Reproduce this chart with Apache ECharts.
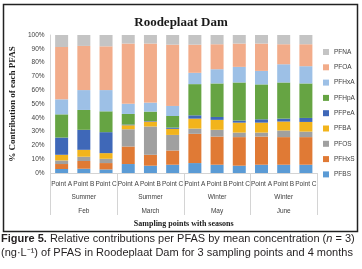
<!DOCTYPE html>
<html>
<head>
<meta charset="utf-8">
<script src="https://cdn.jsdelivr.net/npm/echarts@6/dist/echarts.min.js"></script>
<style>
  html,body{margin:0;padding:0;background:#fff;}
  #main{width:362px;height:269px;}
</style>
</head>
<body>
<div id="main"></div>
<script>
// sampling points, seasons, months
var points = ['Point A','Point B','Point C','Point A','Point B','Point C','Point A','Point B','Point C','Point A','Point B','Point C'];
var seasons = ['Summer','Summer','Winter','Winter'];
var months = ['Feb','March','May','June'];

// % contribution of each PFAS (stack order bottom -> top)
var PFBS  = [2.9, 3.1, 2.6, 6.5, 5.3, 6.0, 7.2, 6.0, 5.3, 6.0, 6.0, 6.0];
var PFHxS = [3.6, 5.6, 4.6, 12.7, 7.9, 10.3, 21.2, 20.4, 20.7, 20.4, 20.0, 20.0];
var PFOS  = [2.6, 3.1, 3.1, 12.5, 20.5, 11.3, 3.8, 4.9, 3.3, 2.9, 4.8, 4.0];
var PFBA  = [4.1, 5.0, 4.1, 2.9, 3.6, 4.4, 7.2, 7.2, 7.2, 7.2, 6.5, 7.0];
var PFPeA = [12.5, 14.5, 15.2, 0.5, 0.4, 0.9, 2.4, 2.1, 1.5, 2.4, 2.1, 2.9];
var PFHpA = [16.8, 14.4, 15.1, 7.7, 6.8, 8.4, 22.6, 24.3, 27.6, 25.3, 26.2, 25.0];
var PFHxA = [10.9, 14.4, 15.4, 7.4, 6.5, 7.3, 8.2, 10.3, 11.3, 9.8, 13.2, 12.5];
var PFOA  = [37.9, 32.0, 31.7, 43.6, 42.8, 44.4, 20.4, 18.1, 16.9, 19.8, 14.5, 15.9];
var PFNA  = [8.7, 7.9, 8.2, 6.2, 6.2, 7.0, 7.0, 6.7, 6.2, 6.2, 6.7, 6.7];

var names = ['PFBS','PFHxS','PFOS','PFBA','PFPeA','PFHpA','PFHxA','PFOA','PFNA'];
var values = [PFBS, PFHxS, PFOS, PFBA, PFPeA, PFHpA, PFHxA, PFOA, PFNA];
var colors = ['#5B9BD5','#E07A35','#A0A0A0','#F2B41C','#3F68B8','#66A443','#9DC0E6','#F2AC8A','#C4C4C4'];

var myChart = echarts.init(document.getElementById('main'));

var series = names.map(function(n, i){
  return {
    name: n,
    type: 'bar',
    stack: 'all',
    barWidth: 13,
    xAxisIndex: 0,
    itemStyle: {color: colors[i]},
    data: values[i]
  };
});

var labelFont = {fontFamily: 'Liberation Sans', fontSize: 6.5, color: '#404040'};

var option = {
  animation: false,
  color: colors,
  title: [{
    text: 'Roodeplaat Dam',
    left: 'center',
    top: 11,
    textStyle: {fontFamily: 'Liberation Serif', fontWeight: 'bold', fontSize: 13, color: '#1a1a1a'}
  }],
  legend: {
    orient: 'vertical',
    left: 323,
    top: 48.5,
    padding: 0,
    itemWidth: 6,
    itemHeight: 6,
    itemGap: 8.3,
    icon: 'rect',
    data: names.slice().reverse(),
    textStyle: {fontFamily: 'Liberation Sans', fontSize: 6.5, color: '#404040'}
  },
  grid: {left: 40, right: 45, top: 35, bottom: 96},
  xAxis: [{
    type: 'category',
    data: points,
    axisLine: {lineStyle: {color: '#d4d4d4'}},
    axisTick: {show: false},
    axisLabel: Object.assign({interval: 0, margin: 8}, labelFont)
  }, {
    type: 'category',
    data: seasons,
    position: 'bottom',
    axisLine: {show: false},
    axisTick: {show: true, length: 42, lineStyle: {color: '#d4d4d4'}},
    axisLabel: Object.assign({interval: 0, margin: 21}, labelFont)
  }, {
    type: 'category',
    data: months,
    position: 'bottom',
    axisLine: {show: false},
    axisTick: {show: false},
    axisLabel: Object.assign({interval: 0, margin: 35}, labelFont),
    name: 'Sampling points with seasons',
    nameLocation: 'middle',
    nameGap: 45,
    nameTextStyle: {fontFamily: 'Liberation Serif', fontWeight: 'bold', fontSize: 8, color: '#1a1a1a'}
  }],
  yAxis: {
    type: 'value',
    min: 0,
    max: 100,
    interval: 10,
    axisLine: {show: true, lineStyle: {color: '#d4d4d4'}},
    axisTick: {show: false},
    splitLine: {show: false},
    axisLabel: Object.assign({formatter: '{value}%', margin: 6}, labelFont),
    name: '% Contribution of each PFAS',
    nameLocation: 'middle',
    nameGap: 25,
    nameTextStyle: {fontFamily: 'Liberation Serif', fontWeight: 'bold', fontSize: 9, color: '#1a1a1a'}
  },
  graphic: [{
    type: 'rect',
    shape: {x: 3.5, y: 4.5, width: 354, height: 227},
    style: {fill: null, stroke: '#222', lineWidth: 1.5},
    silent: true
  }, {
    type: 'text',
    left: 1,
    top: 232,
    style: {
      text: '{b|Figure 5.} Relative contributions per PFAS by mean concentration ({i|n} = 3)\n(ng·L⁻¹) of PFAS in Roodeplaat Dam for 3 sampling points and 4 months',
      font: '11px "Liberation Sans"',
      fill: '#231f20',
      lineHeight: 14,
      rich: {
        b: {fontWeight: 'bold', fontSize: 11, fontFamily: 'Liberation Sans', fill: '#231f20', lineHeight: 14},
        i: {fontStyle: 'italic', fontSize: 11, fontFamily: 'Liberation Sans', fill: '#231f20', lineHeight: 14}
      }
    }
  }],
  series: series
};

myChart.setOption(option);
</script>
</body>
</html>
